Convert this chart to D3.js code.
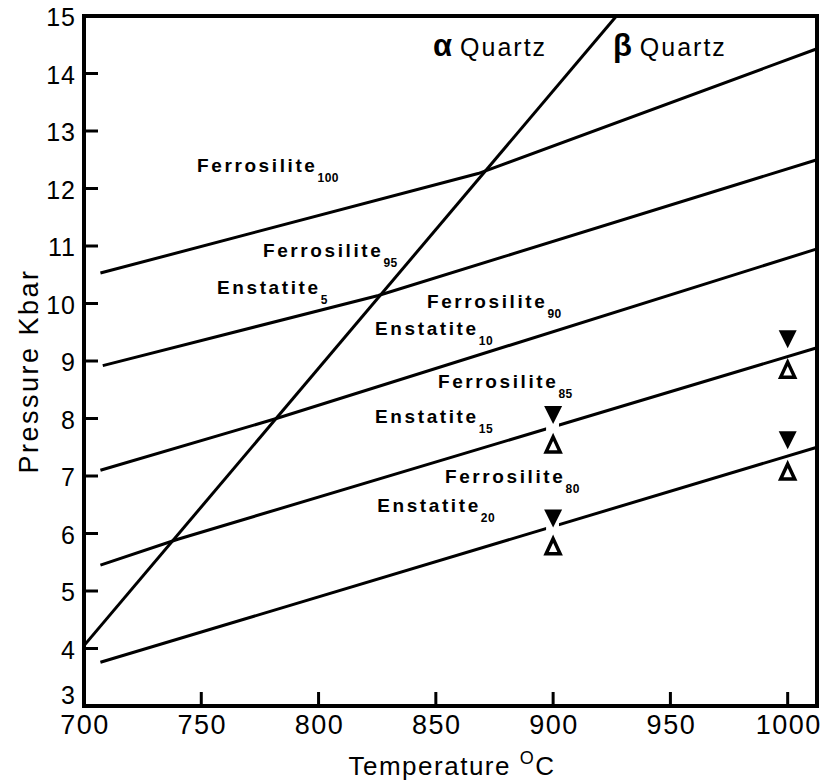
<!DOCTYPE html>
<html>
<head>
<meta charset="utf-8">
<script src="https://cdn.jsdelivr.net/npm/d3@7/dist/d3.min.js"></script>
<style>
  html, body { margin: 0; padding: 0; background: #fff; }
  svg { display: block; font-family: 'Liberation Sans', Arial, Helvetica, sans-serif; }
</style>
</head>
<body>
<svg id="chart" width="823" height="780"></svg>
<script>
'use strict';

// Axis labels and ticks
var xLabels = [700, 750, 800, 850, 900, 950, 1000];
var xTicks = [750, 800, 850, 900, 950, 1000];
var yLabels = [3, 4, 5, 6, 7, 8, 9, 10, 11, 12, 13, 14, 15];
var yTicks = [4, 5, 6, 7, 8, 9, 10, 11, 12, 13, 14];

// Reaction curves, [temperature C, pressure kbar]
var quartzBoundary = [[700, 4.05], [927, 15]];
var fs100 = [[707, 10.53], [868, 12.26], [1012.5, 14.43]];
var fs95 = [[708, 8.92], [825.5, 10.14], [1012.5, 12.5]];
var fs90 = [[707, 7.10], [782, 8.0], [1012.5, 10.95]];
var fs85 = [[707, 5.45], [740, 5.9], [1012.5, 9.23]];
var fs80 = [[707, 3.76], [1012.5, 7.5]];

// Temperature band where the two lower curves are broken by the brackets
var gapTemps = [897, 902.5];

// Experimental brackets
var bracketTemps = [900, 900, 1000, 1000];
var downPressures = [8.06, 6.26, 9.38, 7.62];
var upPressures = [7.55, 5.78, 8.85, 7.08];

// Curve labels
var labelNames = ['Ferrosilite', 'Ferrosilite', 'Enstatite', 'Ferrosilite', 'Enstatite',
  'Ferrosilite', 'Enstatite', 'Ferrosilite', 'Enstatite'];
var labelSubs = ['100', '95', '5', '90', '10', '85', '15', '80', '20'];
var labelTemps = [748.2, 776.3, 756.7, 846.2, 824.1, 850.9, 824.1, 853.9, 825];
var labelPressures = [12.29, 10.81, 10.17, 9.92, 9.45, 8.53, 7.92, 6.88, 6.37];

var phaseSymbols = ['\u03b1', '\u03b2'];
var phaseTemps = [848.8, 925.5];

(function() {
  var svg = d3.select('#chart'),
      left = 84,
      right = 817,
      top = 16,
      bottom = 706,
      x,
      y,
      line,
      mask,
      plot,
      masked,
      downPath,
      upPath,
      labels,
      phases,
      xTitle;

  x = d3.scaleLinear().domain([700, 1012.5]).range([left, right]);
  y = d3.scaleLinear().domain([3, 15]).range([bottom, top]);

  line = d3.line()
    .x(function(d) { return x(d[0]); })
    .y(function(d) { return y(d[1]); });

  // Gap mask for the two lower curves.
  mask = svg.append('defs').append('mask').attr('id', 'gap-mask');
  mask.append('rect')
    .attr('x', 0).attr('y', 0).attr('width', 823).attr('height', 780)
    .attr('fill', '#fff');
  mask.append('rect')
    .attr('x', x(gapTemps[0]))
    .attr('width', x(gapTemps[1]) - x(gapTemps[0]))
    .attr('y', top).attr('height', bottom - top)
    .attr('fill', '#000');

  plot = svg.append('g').attr('class', 'curves')
    .attr('fill', 'none')
    .attr('stroke', '#000')
    .attr('stroke-width', 3);

  [quartzBoundary, fs100, fs95, fs90].forEach(function(d) {
    plot.append('path').attr('d', line(d));
  });

  masked = plot.append('g').attr('mask', 'url(#gap-mask)');
  [fs85, fs80].forEach(function(d) {
    masked.append('path').attr('d', line(d));
  });

  // Frame
  svg.append('path')
    .attr('d', 'M' + left + ',' + bottom + 'V' + top + 'H' + right + 'V' + bottom + 'Z')
    .attr('fill', 'none')
    .attr('stroke', '#000')
    .attr('stroke-width', 4);

  // Inward ticks
  svg.append('g').selectAll('line')
    .data(xTicks)
    .join('line')
    .attr('x1', function(d) { return x(d); })
    .attr('x2', function(d) { return x(d); })
    .attr('y1', bottom)
    .attr('y2', bottom - 14)
    .attr('stroke', '#000')
    .attr('stroke-width', 3);

  svg.append('g').selectAll('line')
    .data(yTicks)
    .join('line')
    .attr('x1', left)
    .attr('x2', left + 14)
    .attr('y1', function(d) { return y(d); })
    .attr('y2', function(d) { return y(d); })
    .attr('stroke', '#000')
    .attr('stroke-width', 3);

  // Tick labels
  svg.append('g').selectAll('text')
    .data(xLabels)
    .join('text')
    .attr('x', function(d) { return x(d) + 1; })
    .attr('y', 734)
    .attr('text-anchor', 'middle')
    .attr('font-size', 27)
    .attr('letter-spacing', '1.5px')
    .text(function(d) { return d; });

  // the bottom label sits raised, clear of the 700
  svg.append('g').selectAll('text')
    .data(yLabels)
    .join('text')
    .attr('x', 76)
    .attr('y', function(d) { return d === 3 ? y(d) - 2 : y(d) + 10; })
    .attr('text-anchor', 'end')
    .attr('font-size', 25)
    .attr('letter-spacing', '1px')
    .text(function(d) { return d; });

  // Axis titles
  xTitle = svg.append('text')
    .attr('x', 452)
    .attr('y', 775)
    .attr('text-anchor', 'middle')
    .attr('font-size', 26)
    .attr('letter-spacing', '1.5px');
  xTitle.append('tspan').text('Temperature ');
  xTitle.append('tspan').attr('font-size', 18).attr('dy', -11).text('O');
  xTitle.append('tspan').attr('dy', 11).text('C');

  svg.append('text')
    .attr('transform', 'translate(38,371) rotate(-90)')
    .attr('text-anchor', 'middle')
    .attr('font-size', 27)
    .attr('letter-spacing', '2.5px')
    .text('Pressure Kbar');

  // Brackets: filled down-pointing and open up-pointing triangles
  downPath = d3.line()([[-9, -9], [9, -9], [0, 9]]) + 'Z';
  upPath = d3.line()([[0, -7.5], [7, 7.5], [-7, 7.5]]) + 'Z';

  svg.append('g').selectAll('path')
    .data(bracketTemps)
    .join('path')
    .attr('transform', function(d, i) {
      return 'translate(' + x(d) + ',' + y(downPressures[i]) + ')';
    })
    .attr('d', downPath)
    .attr('fill', '#000');

  svg.append('g').selectAll('path')
    .data(bracketTemps)
    .join('path')
    .attr('transform', function(d, i) {
      return 'translate(' + x(d) + ',' + y(upPressures[i]) + ')';
    })
    .attr('d', upPath)
    .attr('fill', '#fff')
    .attr('stroke', '#000')
    .attr('stroke-width', 3.5)
    .attr('stroke-linejoin', 'miter');

  // Curve labels with subscripts
  labels = svg.append('g').selectAll('text')
    .data(labelNames)
    .join('text')
    .attr('x', function(d, i) { return x(labelTemps[i]); })
    .attr('y', function(d, i) { return y(labelPressures[i]); })
    .attr('font-size', 19)
    .attr('font-weight', 'bold')
    .attr('letter-spacing', '2.6px');
  labels.append('tspan').text(function(d) { return d; });
  labels.append('tspan')
    .attr('dy', 10)
    .attr('font-size', 12)
    .attr('letter-spacing', '0.5px')
    .text(function(d, i) { return labelSubs[i]; });

  // Quartz fields
  phases = svg.append('g').selectAll('text')
    .data(phaseSymbols)
    .join('text')
    .attr('x', function(d, i) { return x(phaseTemps[i]); })
    .attr('y', 56);
  phases.append('tspan')
    .attr('font-size', 31)
    .attr('font-weight', 'bold')
    .text(function(d) { return d; });
  phases.append('tspan')
    .attr('dx', 8)
    .attr('font-size', 25)
    .attr('letter-spacing', '2px')
    .text('Quartz');
})();
</script>
</body>
</html>
